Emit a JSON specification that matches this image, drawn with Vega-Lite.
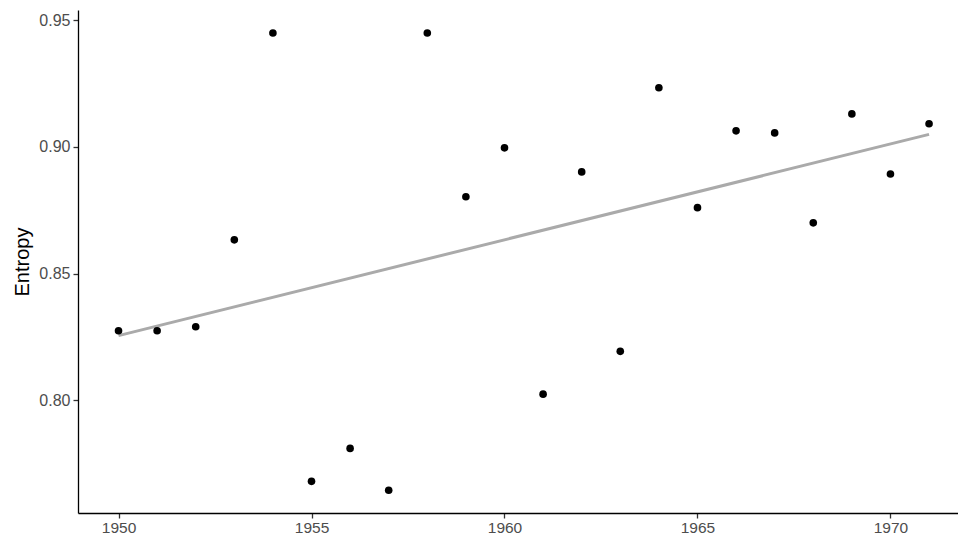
{
  "$schema": "https://vega.github.io/schema/vega-lite/v6.json",
  "width": 880,
  "height": 503,
  "autosize": {"type": "none"},
  "padding": {"left": 78, "top": 10, "right": 0, "bottom": 25},
  "background": "white",
  "config": {"view": {"stroke": null}},
  "data": {"values": [
    {"year": 1950, "entropy": 0.8274},
    {"year": 1951, "entropy": 0.8274},
    {"year": 1952, "entropy": 0.829},
    {"year": 1953, "entropy": 0.8633},
    {"year": 1954, "entropy": 0.9449},
    {"year": 1955, "entropy": 0.768},
    {"year": 1956, "entropy": 0.781},
    {"year": 1957, "entropy": 0.7645},
    {"year": 1958, "entropy": 0.9449},
    {"year": 1959, "entropy": 0.8803},
    {"year": 1960, "entropy": 0.8996},
    {"year": 1961, "entropy": 0.8024},
    {"year": 1962, "entropy": 0.8901},
    {"year": 1963, "entropy": 0.8193},
    {"year": 1964, "entropy": 0.9233},
    {"year": 1965, "entropy": 0.876},
    {"year": 1966, "entropy": 0.9063},
    {"year": 1967, "entropy": 0.9055},
    {"year": 1968, "entropy": 0.870},
    {"year": 1969, "entropy": 0.913},
    {"year": 1970, "entropy": 0.8893},
    {"year": 1971, "entropy": 0.9091}
  ]},
  "encoding": {
    "x": {"field": "year", "type": "quantitative",
      "scale": {"domain": [1948.95, 1971.75], "nice": false, "zero": false},
      "axis": {"title": null, "values": [1950, 1955, 1960, 1965, 1970], "format": "d", "grid": false,
        "domainColor": "black", "domainWidth": 1.3, "tickColor": "#333333", "tickWidth": 1.3, "tickSize": 5,
        "labelColor": "#4d4d4d", "labelFontSize": 15.5, "labelFont": "Liberation Sans", "labelPadding": 2}},
    "y": {"field": "entropy", "type": "quantitative",
      "scale": {"domain": [0.7555, 0.954], "nice": false, "zero": false},
      "axis": {"title": "Entropy", "values": [0.80, 0.85, 0.90, 0.95], "format": ".2f", "grid": false,
        "domainColor": "black", "domainWidth": 1.3, "tickColor": "#333333", "tickWidth": 1.3, "tickSize": 5,
        "labelColor": "#4d4d4d", "labelFontSize": 16, "labelFont": "Liberation Sans", "labelPadding": 3,
        "titleFont": "Liberation Sans", "titleFontSize": 20, "titleFontWeight": "normal", "titleColor": "black", "titlePadding": 6}}
  },
  "layer": [
    {
      "transform": [{"regression": "entropy", "on": "year"}],
      "mark": {"type": "line", "color": "#aaaaaa", "strokeWidth": 3}
    },
    {
      "mark": {"type": "circle", "color": "black", "size": 58, "opacity": 1}
    }
  ]
}
